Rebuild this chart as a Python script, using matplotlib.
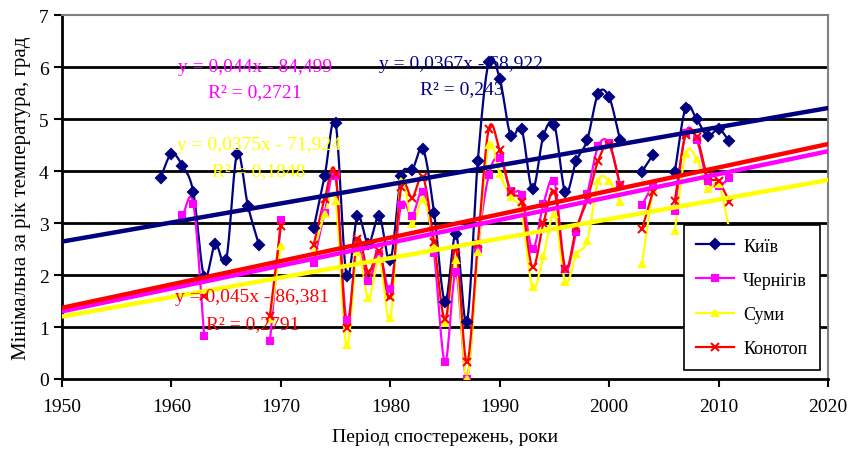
import numpy as np
import matplotlib
matplotlib.use("Agg")
import matplotlib.pyplot as plt
from matplotlib.lines import Line2D

plt.rcParams['font.family'] = ['Liberation Serif', 'DejaVu Serif']

years = np.arange(1959, 2012)
N = None

kyiv = [3.87, 4.33, 4.1, 3.59, 1.96, 2.6, 2.29, 4.33, 3.32, 2.58,
        N, N, N, N,
        2.9, 3.9, 4.92, 1.99, 3.13, 2.6, 3.13, 2.28, 3.9, 4.02,
        4.42, 3.2, 1.49, 2.79, 1.1, 4.2, 6.1, 5.78, 4.68, 4.81,
        3.65, 4.68, 4.88, 3.59, 4.2, 4.6, 5.49, 5.42, 4.6,
        N, 3.99, 4.31, N,
        3.99, 5.22, 5.0, 4.67, 4.81, 4.57]

chernihiv = [N, N, 3.15, 3.37, 0.82, N, N, N, N, N,
             0.73, 3.06, N, N,
             2.24, 3.2, 3.9, 1.14, 2.5, 1.89, 2.4, 1.73, 3.35, 3.14,
             3.6, 2.42, 0.33, 2.05, 0.0, 2.5, 3.92, 4.26, 3.62, 3.54,
             2.5, 3.37, 3.8, 2.12, 2.83, 3.56, 4.48, 4.53, 3.73,
             N, 3.35, 3.73, N,
             3.24, 4.74, 4.6, 3.81, 3.72, 3.86]

sumy = [N, N, N, N, N, N, N, N, N, N,
        1.15, 2.55, N, N,
        2.44, 3.17, 3.43, 0.65, 2.45, 1.55, 2.3, 1.17, 3.81, 2.98,
        3.47, 2.6, 1.08, 2.28, 0.0, 2.44, 4.5, 3.94, 3.5, 3.2,
        1.76, 2.37, 3.17, 1.86, 2.4, 2.66, 3.81, 3.8, 3.41,
        N, 2.21, 3.65, N,
        2.85, 4.33, 4.23, 3.66, 3.75, 2.87]

konotop = [N, N, N, N, 1.6, N, N, N, N, N,
           1.22, 2.95, N, N,
           2.58, 3.46, 3.94, 0.99, 2.7, 2.05, 2.47, 1.57, 3.69, 3.49,
           3.88, 2.63, 1.15, 2.5, 0.32, 2.6, 4.81, 4.4, 3.6, 3.4,
           2.15, 3.0, 3.6, 2.12, 2.9, 3.45, 4.2, 4.5, 3.73,
           N, 2.88, 3.6, N,
           3.43, 4.7, 4.65, 3.9, 3.8, 3.41]

names = ['Київ', 'Чернігів', 'Суми', 'Конотоп']
series = [kyiv, chernihiv, sumy, konotop]
colors = ['#000080', '#FF00FF', '#FFFF00', '#FF0000']
markers = ['D', 's', '^', 'x']

# trend lines as printed on the chart
slopes = [0.0367, 0.044, 0.0375, 0.045]
intercepts = [-68.922, -84.499, -71.924, -86.381]
eq_text = ['y = 0,0367x - 68,922', 'y = 0,044x - 84,499',
           'y = 0,0375x - 71,924', 'y = 0,045x - 86,381']
r2_text = ['R² = 0,243', 'R² = 0,2721', 'R² = 0,1848', 'R² = 0,2791']
eq_pos = [(1986.5, 6.06, 5.58), (1967.6, 6.02, 5.52),
          (1968.0, 4.52, 4.0), (1967.4, 1.58, 1.06)]


def smooth(x, y, n=16):
    # catmull-rom through the points, just to mimic excel's smoothed lines
    if len(x) < 3:
        return np.array(x, float), np.array(y, float)
    px = np.concatenate([[2 * x[0] - x[1]], x, [2 * x[-1] - x[-2]]])
    py = np.concatenate([[2 * y[0] - y[1]], y, [2 * y[-1] - y[-2]]])
    xs, ys = [], []
    t = np.linspace(0, 1, n, endpoint=False)
    for i in range(1, len(px) - 2):
        for p, out in ((px, xs), (py, ys)):
            p0, p1, p2, p3 = p[i - 1], p[i], p[i + 1], p[i + 2]
            out.append(0.5 * (2 * p1 + (-p0 + p2) * t
                              + (2 * p0 - 5 * p1 + 4 * p2 - p3) * t ** 2
                              + (-p0 + 3 * p1 - 3 * p2 + p3) * t ** 3))
    xs.append([x[-1]])
    ys.append([y[-1]])
    return np.concatenate(xs), np.concatenate(ys)


fig = plt.figure(figsize=(8.52, 4.56), dpi=100)
ax = fig.add_axes([0.0728, 0.1667, 0.899, 0.798])

for vals, c, m in zip(series, colors, markers):
    v = np.array([np.nan if a is None else a for a in vals], float)
    ok = ~np.isnan(v)
    # split into runs of consecutive years
    idx = np.where(ok)[0]
    runs = np.split(idx, np.where(np.diff(idx) > 1)[0] + 1)
    for r in runs:
        sx, sy = smooth(years[r].astype(float), v[r])
        ax.plot(sx, sy, color=c, lw=1.6, zorder=3)
    ms = 6 if m == 'x' else 5
    ax.plot(years[ok], v[ok], ls='none', marker=m, color=c, ms=ms, mew=1.5, zorder=4)

xt = np.array([1950, 2020])
for k, c in zip(range(4), colors):
    ax.plot(xt, slopes[k] * xt + intercepts[k], color=c, lw=3.2, zorder=5 + k)

for k, c in enumerate(colors):
    x0, ye, yr = eq_pos[k]
    ax.text(x0, ye, eq_text[k], color=c, fontsize=14, ha='center', va='center', zorder=10)
    ax.text(x0, yr, r2_text[k], color=c, fontsize=14, ha='center', va='center', zorder=10)

ax.set_xlim(1950, 2020)
ax.set_ylim(0, 7)
ax.set_xticks(range(1950, 2021, 10))
ax.set_yticks(range(0, 8))
for yv in range(1, 7):
    ax.axhline(yv, color='black', lw=2, zorder=1)
ax.tick_params(direction='out', length=6, width=1.5, labelsize=14, colors='black')
ax.tick_params(axis='x', pad=8)
for s in ['left', 'bottom']:
    ax.spines[s].set_linewidth(2)
    ax.spines[s].set_color('black')
for s in ['top', 'right']:
    ax.spines[s].set_linewidth(1.5)
    ax.spines[s].set_color('#808080')

ax.set_xlabel('Період спостережень, роки', fontsize=14, labelpad=9)
ax.set_ylabel('Мінімальна за рік температура, град', fontsize=15, labelpad=6)

handles = [Line2D([], [], color=c, marker=m, lw=1.6, ms=6 if m == 'x' else 5, mew=1.5)
           for c, m in zip(colors, markers)]
leg = ax.legend(handles, names, loc='lower right', bbox_to_anchor=(0.9896, 0.0255),
                borderaxespad=0, fontsize=13, frameon=True, fancybox=False,
                edgecolor='black', framealpha=1, handlelength=2.1, handletextpad=0.5,
                labelspacing=0.95, borderpad=0.7)
leg.get_frame().set_linewidth(1.2)
leg.set_zorder(20)

fig.savefig('out.png', dpi=100)
